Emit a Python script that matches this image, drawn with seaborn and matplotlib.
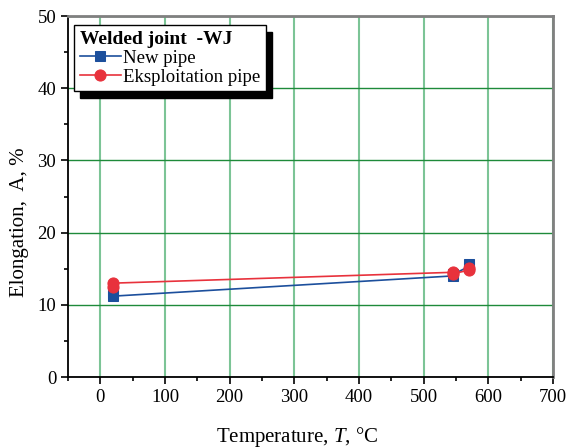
import pandas as pd
import seaborn as sns
import matplotlib.pyplot as plt
from matplotlib.ticker import MultipleLocator

# temperature, deg C and elongation, %
temp_new = [20, 20, 545, 545, 570, 570]
elong_new = [11.6, 11.2, 14.0, 14.2, 15.3, 15.6]
temp_exp = [20, 20, 545, 545, 570, 570]
elong_exp = [12.5, 13.0, 14.5, 14.3, 14.8, 15.1]

df_new = pd.DataFrame({'T': temp_new, 'A': elong_new})
df_exp = pd.DataFrame({'T': temp_exp, 'A': elong_exp})

plt.rcParams['font.family'] = ['Liberation Serif', 'DejaVu Serif']
plt.rcParams['mathtext.fontset'] = 'custom'
plt.rcParams['mathtext.rm'] = 'Liberation Serif'
plt.rcParams['mathtext.it'] = 'Liberation Serif:italic'
blue = '#1c4f9c'
red = '#e8323c'

fig = plt.figure(figsize=(5.67, 4.48), dpi=100)
ax = fig.add_axes([68 / 567, 1 - 377 / 448, (553 - 68) / 567, (377 - 16) / 448])

sns.lineplot(data=df_new, x='T', y='A', ax=ax, estimator=None, sort=False,
             color=blue, marker='s', markersize=7, markeredgecolor=blue,
             linewidth=1.2, label='New pipe')
sns.lineplot(data=df_exp, x='T', y='A', ax=ax, estimator=None, sort=False,
             color=red, marker='o', markersize=8, markeredgecolor=red,
             linewidth=1.2, label='Eksploitation pipe')

ax.set_xlim(-50, 700)
ax.set_ylim(0, 50)
ax.xaxis.set_major_locator(MultipleLocator(100))
ax.xaxis.set_minor_locator(MultipleLocator(50))
ax.yaxis.set_major_locator(MultipleLocator(10))
ax.yaxis.set_minor_locator(MultipleLocator(5))
ax.tick_params(which='both', direction='out', labelsize=13.5, width=1.2)
ax.tick_params(which='major', length=5)
ax.tick_params(which='minor', length=3)

ax.xaxis.grid(True, color='#7cc496', linewidth=1.5)
ax.yaxis.grid(True, color='#1e8a3a', linewidth=1.0)
ax.set_axisbelow(True)

for s in ['left', 'bottom']:
    ax.spines[s].set_color('black')
    ax.spines[s].set_linewidth(1.3)
for s in ['top', 'right']:
    ax.spines[s].set_color('#808080')
    ax.spines[s].set_linewidth(2)

ax.set_xlabel('Temperature, $\\mathit{T}$, °C', fontsize=15)
ax.set_ylabel('Elongation,  A, %', fontsize=15)
ax.xaxis.set_label_coords(0.472, -0.132)
ax.yaxis.set_label_coords(-0.08, 0.43)

leg = ax.legend(title='Welded joint  -WJ', loc='upper left',
                bbox_to_anchor=(0.005, 0.985), fontsize=13.5,
                title_fontproperties={'weight': 'bold', 'size': 14},
                shadow={'ox': 4.3, 'oy': -5, 'color': 'black', 'alpha': 1.0},
                fancybox=False, framealpha=1, edgecolor='black',
                handlelength=2.2, handletextpad=0.1, borderpad=0.3,
                labelspacing=0.1, borderaxespad=0.2)
leg.get_frame().set_linewidth(1.0)
leg._legend_box.align = 'left'

fig.savefig('out.png', dpi=100)
